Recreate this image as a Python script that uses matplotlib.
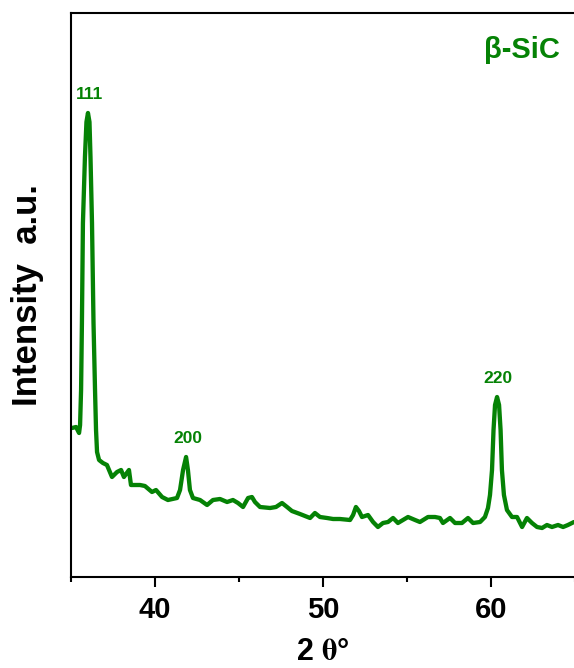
import matplotlib
matplotlib.use("Agg")
import matplotlib.pyplot as plt
from matplotlib.ticker import MultipleLocator

# ---- data ----
two_theta = [35.06, 35.30, 35.48, 35.54, 35.60, 35.65, 35.71, 35.83, 35.92, 36.01,
             36.10, 36.16, 36.25, 36.34, 36.43, 36.49, 36.55, 36.67, 36.90, 37.14,
             37.44, 37.74, 37.98, 38.15, 38.45, 38.57, 39.11, 39.40, 39.82, 40.06,
             40.42, 40.77, 41.31, 41.49, 41.67, 41.85, 41.96, 42.08, 42.26, 42.68,
             43.10, 43.45, 43.87, 44.29, 44.64, 44.94, 45.24, 45.54, 45.77, 45.95,
             46.25, 46.85, 47.20, 47.56, 47.86, 48.15, 48.63, 48.93, 49.23, 49.52,
             49.82, 50.24, 50.60, 51.01, 51.61, 51.79, 51.96, 52.14, 52.32, 52.68,
             52.98, 53.27, 53.57, 53.87, 54.17, 54.46, 54.76, 55.06, 55.48, 55.77,
             56.25, 56.67, 56.96, 57.14, 57.56, 57.86, 58.27, 58.63, 58.93, 59.35,
             59.64, 59.82, 59.94, 60.06, 60.15, 60.24, 60.36, 60.48, 60.57, 60.65,
             60.77, 60.95, 61.25, 61.55, 61.85, 62.14, 62.44, 62.74, 63.04, 63.33,
             63.63, 63.99, 64.29, 64.58, 64.94]
intensity = [149, 150, 144, 152, 187, 254, 354, 420, 455, 464,
             455, 420, 354, 254, 187, 147, 125, 117, 114, 112,
             100, 105, 107, 100, 107, 92, 92, 91, 85, 87,
             80, 77, 79, 87, 107, 120, 107, 87, 79, 77,
             72, 77, 78, 75, 77, 74, 70, 79, 80, 75,
             70, 69, 70, 74, 70, 66, 63, 61, 59, 64,
             60, 59, 58, 58, 57, 62, 70, 66, 60, 62,
             55, 50, 54, 55, 59, 54, 57, 60, 57, 55,
             60, 60, 59, 54, 59, 54, 54, 59, 54, 55,
             60, 69, 82, 107, 147, 172, 180, 172, 147, 107,
             82, 67, 60, 60, 50, 59, 54, 50, 49, 52,
             50, 52, 50, 52, 55]

peak_labels = ["111", "200", "220"]
peak_pos = [36.01, 41.85, 60.36]
peak_int = [464, 120, 180]

phase_label = "\u03b2-SiC"
x_ticks = [40, 50, 60]

GREEN = "#058205"

plt.rcParams["font.family"] = ["Liberation Sans", "DejaVu Sans"]
plt.rcParams["font.weight"] = "bold"
plt.rcParams["mathtext.fontset"] = "stix"

fig = plt.figure(figsize=(5.74, 6.68), dpi=100)
ax = fig.add_axes([71 / 574, 91 / 668, 504 / 574, 564 / 668])

ax.plot(two_theta, intensity, color=GREEN, lw=3.1, solid_joinstyle="round",
        solid_capstyle="round")

for lab, px, py in zip(peak_labels, peak_pos, peak_int):
    ax.annotate(lab, (px, py), xytext=(1, 8), textcoords="offset points",
                ha="center", va="bottom", color=GREEN, fontsize=12.5,
                fontweight="bold")

ax.text(0.895, 0.935, phase_label, transform=ax.transAxes, ha="center",
        va="center", color=GREEN, fontsize=21, fontweight="bold")

ax.set_xlim(35, 65)
ax.set_ylim(0, 564)

ax.set_xticks(x_ticks)
ax.xaxis.set_minor_locator(MultipleLocator(5))
ax.tick_params(axis="x", which="major", direction="out", length=7, width=1.5,
               labelsize=21, pad=7)
ax.tick_params(axis="x", which="minor", direction="out", length=3.5, width=1.5)
for t in ax.get_xticklabels():
    t.set_fontweight("bold")
ax.set_yticks([])

ax.spines["right"].set_visible(False)
for s in ["left", "bottom", "top"]:
    ax.spines[s].set_linewidth(1.5)

ax.set_xlabel(r"2 $\mathrm{\theta}$°", fontsize=22, fontweight="bold", labelpad=9)
ax.set_ylabel("Intensity  a.u.", fontsize=25, fontweight="bold")
ax.yaxis.set_label_coords(-0.054, 0.5)

fig.savefig("out.png", dpi=100)
